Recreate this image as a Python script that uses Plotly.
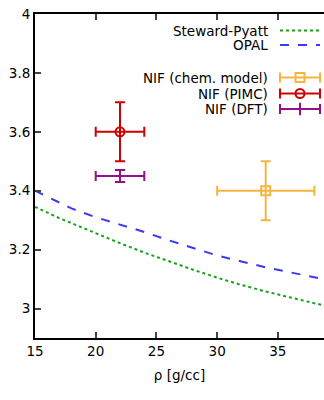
import plotly.graph_objects as go

# ---- data ----
sp_rho = [15, 16, 17, 18, 20, 22, 24, 26, 28, 30, 32, 34, 36, 38, 40]
sp_p = [3.345, 3.325, 3.307, 3.29, 3.255, 3.222, 3.19, 3.16, 3.132, 3.105, 3.08, 3.058, 3.037, 3.018, 3.0]
opal_rho = [15, 16, 17, 18, 20, 22, 24, 26, 28, 30, 32, 34, 36, 38, 40]
opal_p = [3.40, 3.38, 3.36, 3.34, 3.31, 3.285, 3.26, 3.232, 3.205, 3.18, 3.16, 3.14, 3.123, 3.108, 3.09]

chem_x, chem_y, chem_ex, chem_ey = [34], [3.4], [4], [0.1]
pimc_x, pimc_y, pimc_ex, pimc_ey = [22], [3.6], [2], [0.1]
dft_x, dft_y, dft_ex, dft_ey = [22], [3.45], [2], [0.02]

xticks = [15, 20, 25, 30, 35]
yticks = [3.0, 3.2, 3.4, 3.6, 3.8, 4.0]
ytick_text = ["3", "3.2", "3.4", "3.6", "3.8", "4"]

GREEN = "#1aa01a"
BLUE = "#3a3af0"
ORANGE = "#f7b540"
RED = "#d00000"
PURPLE = "#960e8c"
FONT = "DejaVu Sans"

fig = go.Figure()

fig.add_trace(go.Scatter(x=sp_rho, y=sp_p, mode="lines",
                         line=dict(color=GREEN, width=2, dash="dot"), showlegend=False))
fig.add_trace(go.Scatter(x=opal_rho, y=opal_p, mode="lines",
                         line=dict(color=BLUE, width=2, dash="dash"), showlegend=False))

def pt(x, y, ex, ey, color, symbol, size):
    fig.add_trace(go.Scatter(
        x=x, y=y, mode="markers",
        marker=dict(symbol=symbol, size=size, color=color, line=dict(color=color, width=2)),
        error_x=dict(type="data", array=ex, color=color, thickness=2, width=5),
        error_y=dict(type="data", array=ey, color=color, thickness=2, width=5),
        showlegend=False))

pt(chem_x, chem_y, chem_ex, chem_ey, ORANGE, "square-open", 9)
pt(pimc_x, pimc_y, pimc_ex, pimc_ey, RED, "circle-open", 9)
pt(dft_x, dft_y, dft_ex, dft_ey, PURPLE, "line-ns", 10)

# ---- manual legend on an overlay axis in pixel units ----
entries = [
    ("Steward-Pyatt", 30.5, "line", GREEN, "dot", None),
    ("OPAL", 45, "line", BLUE, "dash", None),
    ("NIF (chem. model)", 77.5, "err", ORANGE, None, "square-open"),
    ("NIF (PIMC)", 93.5, "err", RED, None, "circle-open"),
    ("NIF (DFT)", 109, "err", PURPLE, None, "line-ns"),
]
annotations = []
for label, yy, kind, col, dash, sym in entries:
    annotations.append(dict(x=270, y=yy, xref="x2", yref="y2", text=label, showarrow=False,
                            xanchor="right", yanchor="middle",
                            font=dict(family=FONT, size=13.5, color="black")))
    if kind == "line":
        fig.add_trace(go.Scatter(x=[280, 320], y=[yy, yy], xaxis="x2", yaxis="y2", mode="lines",
                                 line=dict(color=col, width=2, dash=dash), showlegend=False,
                                 cliponaxis=False, hoverinfo="skip"))
    else:
        fig.add_trace(go.Scatter(x=[300], y=[yy], xaxis="x2", yaxis="y2", mode="markers",
                                 marker=dict(symbol=sym, size=9, color=col, line=dict(color=col, width=2)),
                                 error_x=dict(type="constant", value=20, color=col, thickness=2, width=5),
                                 showlegend=False, cliponaxis=False, hoverinfo="skip"))

fig.update_layout(
    width=324, height=400,
    margin=dict(l=35, r=0, t=14, b=62),
    plot_bgcolor="white", paper_bgcolor="white",
    font=dict(family=FONT, size=13.5, color="black"),
    xaxis=dict(range=[15, 38.8], tickvals=xticks, ticks="inside", ticklen=6, tickwidth=2,
               showline=True, linecolor="black", linewidth=2, mirror="ticks", showgrid=False,
               zeroline=False, title=dict(text="ρ [g/cc]", font=dict(size=13.5), standoff=12)),
    yaxis=dict(range=[2.9, 4.0], tickvals=yticks, ticktext=ytick_text, ticks="inside", ticklen=6,
               tickwidth=2, showline=True, linecolor="black", linewidth=2, showgrid=False,
               zeroline=False),
    xaxis2=dict(range=[35, 324], overlaying="x", visible=False, showgrid=False, zeroline=False),
    yaxis2=dict(range=[338, 14], overlaying="y", visible=False, showgrid=False, zeroline=False),
    annotations=annotations,
)

fig.write_html("out.html")
